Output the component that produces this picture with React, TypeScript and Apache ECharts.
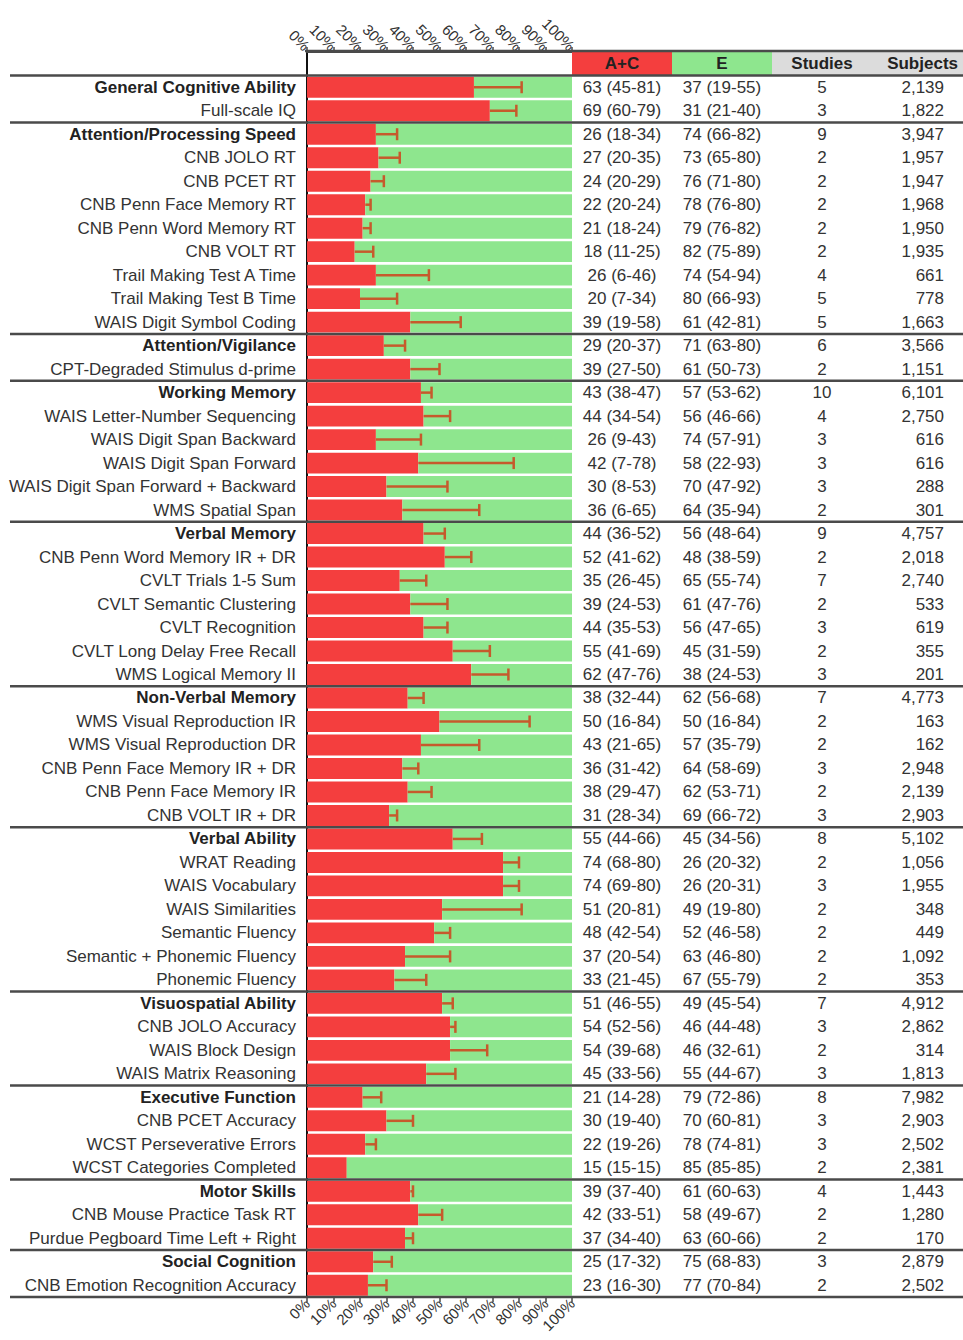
import React, { useEffect, useRef } from "react";
import * as echarts from "echarts";

const labels = [
  "General Cognitive Ability", "Full-scale IQ",
  "Attention/Processing Speed", "CNB JOLO RT", "CNB PCET RT", "CNB Penn Face Memory RT", "CNB Penn Word Memory RT", "CNB VOLT RT", "Trail Making Test A Time", "Trail Making Test B Time", "WAIS Digit Symbol Coding",
  "Attention/Vigilance", "CPT-Degraded Stimulus d-prime",
  "Working Memory", "WAIS Letter-Number Sequencing", "WAIS Digit Span Backward", "WAIS Digit Span Forward", "WAIS Digit Span Forward + Backward", "WMS Spatial Span",
  "Verbal Memory", "CNB Penn Word Memory IR + DR", "CVLT Trials 1-5 Sum", "CVLT Semantic Clustering", "CVLT Recognition", "CVLT Long Delay Free Recall", "WMS Logical Memory II",
  "Non-Verbal Memory", "WMS Visual Reproduction IR", "WMS Visual Reproduction DR", "CNB Penn Face Memory IR + DR", "CNB Penn Face Memory IR", "CNB VOLT IR + DR",
  "Verbal Ability", "WRAT Reading", "WAIS Vocabulary", "WAIS Similarities", "Semantic Fluency", "Semantic + Phonemic Fluency", "Phonemic Fluency",
  "Visuospatial Ability", "CNB JOLO Accuracy", "WAIS Block Design", "WAIS Matrix Reasoning",
  "Executive Function", "CNB PCET Accuracy", "WCST Perseverative Errors", "WCST Categories Completed",
  "Motor Skills", "CNB Mouse Practice Task RT", "Purdue Pegboard Time Left + Right",
  "Social Cognition", "CNB Emotion Recognition Accuracy",
];

const sectionRows = [0, 2, 11, 13, 19, 26, 32, 39, 43, 47, 50];

const acValue = [63, 69, 26, 27, 24, 22, 21, 18, 26, 20, 39, 29, 39, 43, 44, 26, 42, 30, 36, 44, 52, 35, 39, 44, 55, 62, 38, 50, 43, 36, 38, 31, 55, 74, 74, 51, 48, 37, 33, 51, 54, 54, 45, 21, 30, 22, 15, 39, 42, 37, 25, 23];
const acLow = [45, 60, 18, 20, 20, 20, 18, 11, 6, 7, 19, 20, 27, 38, 34, 9, 7, 8, 6, 36, 41, 26, 24, 35, 41, 47, 32, 16, 21, 31, 29, 28, 44, 68, 69, 20, 42, 20, 21, 46, 52, 39, 33, 14, 19, 19, 15, 37, 33, 34, 17, 16];
const acHigh = [81, 79, 34, 35, 29, 24, 24, 25, 46, 34, 58, 37, 50, 47, 54, 43, 78, 53, 65, 52, 62, 45, 53, 53, 69, 76, 44, 84, 65, 42, 47, 34, 66, 80, 80, 81, 54, 54, 45, 55, 56, 68, 56, 28, 40, 26, 15, 40, 51, 40, 32, 30];

const eValue = [37, 31, 74, 73, 76, 78, 79, 82, 74, 80, 61, 71, 61, 57, 56, 74, 58, 70, 64, 56, 48, 65, 61, 56, 45, 38, 62, 50, 57, 64, 62, 69, 45, 26, 26, 49, 52, 63, 67, 49, 46, 46, 55, 79, 70, 78, 85, 61, 58, 63, 75, 77];
const eLow = [19, 21, 66, 65, 71, 76, 76, 75, 54, 66, 42, 63, 50, 53, 46, 57, 22, 47, 35, 48, 38, 55, 47, 47, 31, 24, 56, 16, 35, 58, 53, 66, 34, 20, 20, 19, 46, 46, 55, 45, 44, 32, 44, 72, 60, 74, 85, 60, 49, 60, 68, 70];
const eHigh = [55, 40, 82, 80, 80, 80, 82, 89, 94, 93, 81, 80, 73, 62, 66, 91, 93, 92, 94, 64, 59, 74, 76, 65, 59, 53, 68, 84, 79, 69, 71, 72, 56, 32, 31, 80, 58, 80, 79, 54, 48, 61, 67, 86, 81, 81, 85, 63, 67, 66, 83, 84];

const studies = [5, 3, 9, 2, 2, 2, 2, 2, 4, 5, 5, 6, 2, 10, 4, 3, 3, 3, 2, 9, 2, 7, 2, 3, 2, 3, 7, 2, 2, 3, 2, 3, 8, 2, 3, 2, 2, 2, 2, 7, 3, 2, 3, 8, 3, 3, 2, 4, 2, 2, 3, 2];
const subjects = [2139, 1822, 3947, 1957, 1947, 1968, 1950, 1935, 661, 778, 1663, 3566, 1151, 6101, 2750, 616, 616, 288, 301, 4757, 2018, 2740, 533, 619, 355, 201, 4773, 163, 162, 2948, 2139, 2903, 5102, 1056, 1955, 348, 449, 1092, 353, 4912, 2862, 314, 1813, 7982, 2903, 2502, 2381, 1443, 1280, 170, 2879, 2502];

const headerLabels = ["A+C", "E", "Studies", "Subjects"];
const tickFormat = "{value}%";

const RED = "#f43e3e";
const GREEN = "#8ee68e";
const GRAY = "#dcdcdc";
const ERR = "#c65a2c";
const RULE = "#4a4a4a";
const TEXT = "#333333";
const FONT = "'Liberation Sans', Arial, Helvetica, sans-serif";
const FS = 17;

export default function App() {
  const ref = useRef<HTMLDivElement>(null);

  useEffect(() => {
    if (!ref.current) return;
    const chart = echarts.init(ref.current, undefined, { renderer: "svg" });
    const cats = ["", ...labels];
    const isSection = (i: number) => sectionRows.indexOf(i) >= 0;

    const gridTop = 52;
    const gridHeight = 1297 - 52;

    const xAxisCommon = {
      type: "value",
      min: 0,
      max: 100,
      interval: 10,
      gridIndex: 0,
      splitLine: { show: false },
      axisLine: { show: true, lineStyle: { color: RULE, width: 2 } },
      axisTick: { show: true, length: 5, lineStyle: { color: RULE, width: 1.5 } },
      axisLabel: {
        formatter: tickFormat,
        rotate: 45,
        fontSize: 15,
        color: TEXT,
        fontFamily: FONT,
        margin: 4,
      },
    };

    const option: any = {
      animation: false,
      backgroundColor: "#ffffff",
      textStyle: { fontFamily: FONT },
      grid: [
        { left: 307, width: 265, top: gridTop, height: gridHeight, containLabel: false },
        { left: 572, width: 391, top: gridTop, height: gridHeight, containLabel: false },
      ],
      xAxis: [
        { ...xAxisCommon, position: "top" },
        { ...xAxisCommon, position: "bottom" },
        { type: "value", gridIndex: 1, min: 0, max: 391, show: false },
      ],
      yAxis: [
        {
          type: "category",
          gridIndex: 0,
          data: cats,
          inverse: true,
          axisLine: { show: true, lineStyle: { color: "#111", width: 2 } },
          axisTick: { show: false },
          splitLine: { show: false },
          axisLabel: {
            interval: 0,
            margin: 11,
            formatter: (v: string, idx: number) => {
              if (idx === 0) return "";
              return isSection(idx - 1) ? `{b|${v}}` : `{n|${v}}`;
            },
            rich: {
              b: { fontSize: FS, fontWeight: "bold", color: "#222", fontFamily: FONT },
              n: { fontSize: FS, color: TEXT, fontFamily: FONT },
            },
          },
        },
        { type: "category", gridIndex: 1, data: cats, inverse: true, show: false },
      ],
      series: [
        {
          name: "A+C",
          type: "bar",
          xAxisIndex: 0,
          yAxisIndex: 0,
          stack: "total",
          barCategoryGap: "11%",
          itemStyle: { color: RED },
          data: ["-", ...acValue],
        },
        {
          name: "E",
          type: "bar",
          xAxisIndex: 0,
          yAxisIndex: 0,
          stack: "total",
          barCategoryGap: "11%",
          itemStyle: { color: GREEN },
          data: ["-", ...eValue],
        },
        {
          name: "CI",
          type: "custom",
          xAxisIndex: 0,
          yAxisIndex: 0,
          clip: false,
          z: 5,
          data: acValue.map((v, i) => [v, i + 1, acHigh[i]]),
          encode: { x: [0, 2], y: 1 },
          renderItem: (params: any, api: any) => {
            const v = api.value(0);
            const r = api.value(1);
            const h = api.value(2);
            if (h <= v) return { type: "group", children: [] };
            const p1 = api.coord([v, r]);
            const p2 = api.coord([h, r]);
            const style = { stroke: ERR, lineWidth: 2.5 };
            return {
              type: "group",
              children: [
                { type: "line", shape: { x1: p1[0], y1: p1[1], x2: p2[0], y2: p2[1] }, style },
                { type: "line", shape: { x1: p2[0], y1: p2[1] - 6, x2: p2[0], y2: p2[1] + 6 }, style },
              ],
            };
          },
        },
        {
          name: "table",
          type: "custom",
          xAxisIndex: 2,
          yAxisIndex: 1,
          clip: false,
          silent: true,
          z: 10,
          data: cats.map((_, i) => [0, i]),
          encode: { x: 0, y: 1 },
          renderItem: (params: any, api: any) => {
            const r = api.value(1);
            const band = api.size([0, 1])[1];
            const yc = api.coord([0, r])[1];
            const X = (v: number) => api.coord([v, r])[0];
            const W = api.getWidth();
            const children: any[] = [];
            const txt = (x: number, text: string, align: string, bold = false, color = TEXT) => ({
              type: "text",
              x,
              y: yc,
              style: {
                text,
                fill: color,
                fontSize: FS,
                fontFamily: FONT,
                fontWeight: bold ? "bold" : "normal",
                align,
                verticalAlign: "middle",
              },
            });
            const rule = (x1: number, y: number) => ({
              type: "line",
              shape: { x1, y1: y, x2: W, y2: y },
              style: { stroke: RULE, lineWidth: 2.5 },
            });
            if (r === 0) {
              const top = yc - band / 2;
              children.push({ type: "rect", shape: { x: X(0), y: top, width: X(100) - X(0), height: band }, style: { fill: RED } });
              children.push({ type: "rect", shape: { x: X(100), y: top, width: X(200) - X(100), height: band }, style: { fill: GREEN } });
              children.push({ type: "rect", shape: { x: X(200), y: top, width: X(391) - X(200), height: band }, style: { fill: GRAY } });
              children.push(txt(X(50), headerLabels[0], "center", true, "#222"));
              children.push(txt(X(150), headerLabels[1], "center", true, "#222"));
              children.push(txt(X(250), headerLabels[2], "center", true, "#222"));
              children.push(txt(X(386), headerLabels[3], "right", true, "#222"));
              children.push(rule(305, top - 1));
            } else {
              const i = r - 1;
              children.push(txt(X(50), `${acValue[i]} (${acLow[i]}-${acHigh[i]})`, "center"));
              children.push(txt(X(150), `${eValue[i]} (${eLow[i]}-${eHigh[i]})`, "center"));
              children.push(txt(X(250), String(studies[i]), "center"));
              children.push(txt(X(372), subjects[i].toLocaleString("en-US"), "right"));
              if (isSection(i)) children.push(rule(10, yc - band / 2));
              if (i === labels.length - 1) children.push(rule(10, yc + band / 2));
            }
            return { type: "group", children };
          },
        },
      ],
    };

    chart.setOption(option);
    return () => chart.dispose();
  }, []);

  return (
    <div
      ref={ref}
      style={{ position: "absolute", left: 0, top: 0, width: 963, height: 1340, background: "#fff" }}
    />
  );
}
